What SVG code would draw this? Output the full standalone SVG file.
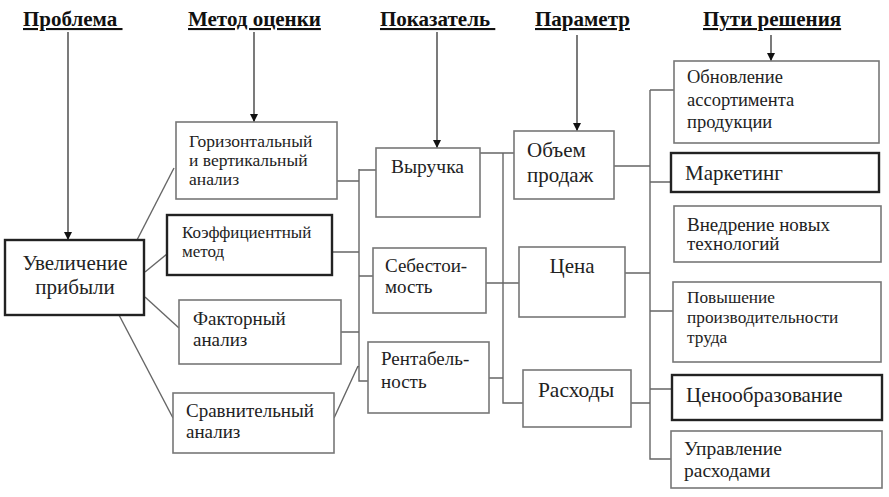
<svg xmlns="http://www.w3.org/2000/svg" width="889" height="497" viewBox="0 0 889 497">
<defs>
<marker id="arr" viewBox="0 0 10 10" refX="10" refY="5" markerWidth="8" markerHeight="8" markerUnits="userSpaceOnUse" orient="auto">
<path d="M0,0 L10,5 L0,10 z" fill="#111"/>
</marker>
</defs>
<style>
.hdr{font-family:"Liberation Serif","Times New Roman",serif;font-weight:bold;font-size:21px;fill:#111;text-decoration:underline}
.t{font-family:"Liberation Serif","Times New Roman",serif;font-size:19px;fill:#222}
.box{fill:#fff;stroke:#777;stroke-width:1.6}
.bold{fill:#fff;stroke:#222;stroke-width:2.4}
.ln{fill:none;stroke:#666;stroke-width:1.4}
.ar{fill:none;stroke:#333;stroke-width:1.3}
</style>
<rect width="889" height="497" fill="#fff"/>

<g id="headers">
<text class="hdr" x="23" y="26">Проблема&#160;</text>
<text class="hdr" x="188" y="26">Метод оценки</text>
<text class="hdr" x="380" y="26">Показатель&#160;</text>
<text class="hdr" x="535" y="26">Параметр</text>
<text class="hdr" x="703" y="26">Пути решения</text>
</g>

<g id="connectors">
<line class="ar" x1="68" y1="32" x2="68" y2="240" marker-end="url(#arr)"/>
<line class="ar" x1="254" y1="32" x2="254" y2="122" marker-end="url(#arr)"/>
<line class="ar" x1="437" y1="32" x2="437" y2="148" marker-end="url(#arr)"/>
<line class="ar" x1="577" y1="35" x2="577" y2="131" marker-end="url(#arr)"/>
<line class="ar" x1="771" y1="35" x2="771" y2="61" marker-end="url(#arr)"/>

<line class="ln" x1="137" y1="240" x2="174" y2="168"/>
<line class="ln" x1="145" y1="272" x2="167" y2="254"/>
<line class="ln" x1="145" y1="297" x2="179" y2="328"/>
<line class="ln" x1="119" y1="315" x2="173" y2="418"/>

<path class="ln" d="M337,181 H359 M359,169 V381 H368 M359,170 H379 M332,252 H359 M359,276 H373 M341,332 H359 M334,418 L358,366"/>

<path class="ln" d="M480,153 H514 M503,153 V403 H523 M486,283 H519 M489,378 H503"/>

<path class="ln" d="M650,90 V459 H671 M650,90 H674 M614,166 H650 M650,182 H671 M625,273 H650 M650,311 H673 M631,403 H650 M650,389 H672"/>
</g>

<g id="n-profit">
<rect class="bold" x="5" y="240" width="139" height="75"/>
<text class="t" x="75" y="270" text-anchor="middle" style="font-size:21px">Увеличение</text>
<text class="t" x="75" y="294" text-anchor="middle" style="font-size:21px">прибыли</text>
</g>

<g id="n-horiz">
<rect class="box" x="176" y="122" width="161" height="77"/>
<text class="t" x="189" y="147" style="font-size:17.5px">Горизонтальный</text>
<text class="t" x="189" y="166" style="font-size:17.5px">и вертикальный</text>
<text class="t" x="189" y="185" style="font-size:17.5px">анализ</text>
</g>

<g id="n-coef">
<rect class="bold" x="167" y="215" width="165" height="60"/>
<text class="t" x="182" y="238" style="font-size:17px">Коэффициентный</text>
<text class="t" x="182" y="257" style="font-size:17px">метод</text>
</g>

<g id="n-factor">
<rect class="box" x="179" y="300" width="162" height="64"/>
<text class="t" x="193" y="325">Факторный</text>
<text class="t" x="193" y="346">анализ</text>
</g>

<g id="n-compar">
<rect class="box" x="173" y="393" width="161" height="60"/>
<text class="t" x="186" y="417">Сравнительный</text>
<text class="t" x="186" y="438">анализ</text>
</g>

<g id="n-revenue">
<rect class="box" x="376" y="148" width="104" height="69"/>
<text class="t" x="391" y="173" style="font-size:19.5px">Выручка</text>
</g>

<g id="n-cost">
<rect class="box" x="373" y="248" width="113" height="65"/>
<text class="t" x="385" y="272">Себестои-</text>
<text class="t" x="385" y="293">мость</text>
</g>

<g id="n-profitab">
<rect class="box" x="368" y="342" width="121" height="71"/>
<text class="t" x="381" y="365">Рентабель-</text>
<text class="t" x="381" y="388">ность</text>
</g>

<g id="n-volume">
<rect class="box" x="514" y="131" width="100" height="68"/>
<text class="t" x="527" y="157" style="font-size:21px">Объем</text>
<text class="t" x="527" y="182" style="font-size:21px">продаж</text>
</g>

<g id="n-price">
<rect class="box" x="519" y="247" width="106" height="70"/>
<text class="t" x="572" y="273" text-anchor="middle" style="font-size:21px">Цена</text>
</g>

<g id="n-expenses">
<rect class="box" x="523" y="370" width="108" height="57"/>
<text class="t" x="576" y="397" text-anchor="middle" style="font-size:21.5px">Расходы</text>
</g>

<g id="n-assort">
<rect class="box" x="674" y="61" width="205" height="82"/>
<text class="t" x="687" y="83" style="font-size:18.5px">Обновление</text>
<text class="t" x="687" y="106" style="font-size:18.5px">ассортимента</text>
<text class="t" x="687" y="128" style="font-size:18.5px">продукции</text>
</g>

<g id="n-marketing">
<rect class="bold" x="671" y="153" width="208" height="39"/>
<text class="t" x="685" y="180" style="font-size:21px">Маркетинг</text>
</g>

<g id="n-tech">
<rect class="box" x="674" y="206" width="207" height="56"/>
<text class="t" x="687" y="231">Внедрение новых</text>
<text class="t" x="687" y="250">технологий</text>
</g>

<g id="n-product">
<rect class="box" x="673" y="282" width="208" height="80"/>
<text class="t" x="687" y="303" style="font-size:17.3px">Повышение</text>
<text class="t" x="687" y="323" style="font-size:17.3px">производительности</text>
<text class="t" x="687" y="343" style="font-size:17.3px">труда</text>
</g>

<g id="n-pricing">
<rect class="bold" x="672" y="375" width="210" height="45"/>
<text class="t" x="686" y="402" style="font-size:21px">Ценообразование</text>
</g>

<g id="n-costmgmt">
<rect class="box" x="671" y="431" width="211" height="57"/>
<text class="t" x="684" y="455" style="font-size:19.5px">Управление</text>
<text class="t" x="684" y="477" style="font-size:19.5px">расходами</text>
</g>
</svg>
